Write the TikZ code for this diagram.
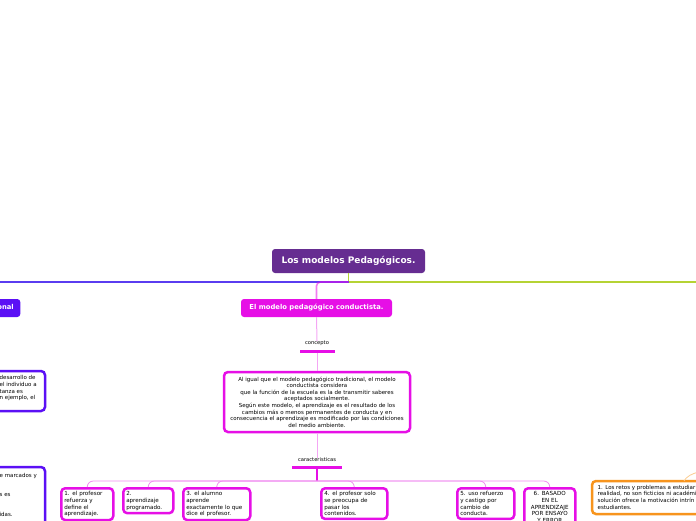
\documentclass[tikz,border=0pt]{standalone}
\usepackage{fontspec}
\setmainfont{DejaVu Sans}
\definecolor{rootc}{HTML}{662D91}
\definecolor{bluec}{HTML}{5B10F5}
\definecolor{bluel}{HTML}{5A3CF0}
\definecolor{magc}{HTML}{E60FE6}
\definecolor{pinkc}{HTML}{F4A6F4}
\definecolor{kidl}{HTML}{F08CF0}
\definecolor{greenc}{HTML}{B5D334}
\definecolor{orc}{HTML}{F7941D}
\definecolor{orl}{HTML}{FBCB8E}
\begin{document}
\begin{tikzpicture}[x=1pt,y=-1pt,
  rootbox/.style={fill=rootc,rounded corners=3pt,minimum width=153pt,minimum height=24pt,text=white,inner sep=0pt,font=\bfseries\fontsize{9}{11}\selectfont},
  mainbox/.style={rounded corners=3pt,minimum height=18pt,text=white,inner sep=0pt,font=\bfseries\fontsize{6.8}{8}\selectfont},
  lbl/.style={inner sep=0pt,font=\fontsize{5.2}{6}\selectfont},
  small/.style={font=\fontsize{5.5}{6.6}\selectfont},
  kidfont/.style={font=\fontsize{5.6}{6.8}\selectfont},
  bar/.style={draw=magc,line width=3pt},
  cbox/.style={draw=magc,line width=2.5pt,rounded corners=4pt,fill=white,inner sep=2pt,small},
  kid/.style={draw=magc,line width=2.5pt,rounded corners=4pt,fill=white,inner xsep=3pt,inner ysep=3pt,kidfont,anchor=north west},
  kline/.style={draw=kidl,line width=0.8pt,rounded corners=6pt},
  plink/.style={draw=pinkc,line width=1pt},
  bbox/.style={draw=bluec,line width=2.5pt,rounded corners=4pt,fill=white},
  ftxt/.style={inner sep=0pt,small,align=left}]
\useasboundingbox (0,0) rectangle (696,520);

% root and main branches
\node[rootbox] (root) at (348.5,261) {Los modelos Pedagógicos.};
\coordinate (j) at (348.5,282);
\node[mainbox,fill=bluec,anchor=east,inner xsep=6.5pt] (trad) at (20.5,308) {El modelo pedagógico tradicional};
\node[mainbox,fill=magc,minimum width=151pt] (cond) at (316.5,308) {El modelo pedagógico conductista.};
\coordinate (gend) at (720,282);
\coordinate (bend) at (-80,282);

\draw[draw=greenc,line width=1.6pt] (root.south) -- (j) -- (gend);
\draw[draw=bluel,line width=1.6pt] (j) -- (bend);
\draw[draw=magc,opacity=0.55,line width=1.6pt,rounded corners=4pt] (j) -| (cond.north);

% concepto
\node[lbl] (conc) at (317,343.5) {concepto};
\coordinate (cbl) at (300,351);
\coordinate (cbr) at (335,351);
\draw[bar] (cbl) -- (cbr);
\node[cbox,text width=182pt,align=center,minimum height=60pt] (cb) at (317,402) {Al igual que el modelo pedagógico tradicional, el modelo\\conductista considera\\que la función de la escuela es la de transmitir saberes\\aceptados socialmente.\\Según este modelo, el aprendizaje es el resultado de los\\cambios más o menos permanentes de conducta y en\\consecuencia el aprendizaje es modificado por las condiciones\\del medio ambiente.};
\draw[plink] (cond.south) -- (conc.north);
\draw[plink] (317,352.5) -- (cb.north);

% caracteristicas
\node[lbl] (car) at (317,460) {caracteristicas};
\coordinate (kbl) at (292,467);
\coordinate (kbr) at (342,467);
\draw[bar] (kbl) -- (kbr);
\draw[plink] (cb.south) -- (car.north);
\coordinate (hub) at (317,481);
\draw[draw=magc,line width=1.5pt] (317,468.5) -- (hub);

% children
\node[kid,text width=46pt,align=left] (k1) at (60,487) {1. el profesor\\refuerza y\\define el\\aprendizaje.};
\node[kid,text width=44pt,align=left] (k2) at (122,487) {2.\\aprendizaje\\programado.};
\node[kid,text width=61pt,align=left] (k3) at (182,487) {3. el alumno\\aprende\\exactamente lo que\\dice el profesor.};
\node[kid,text width=60pt,align=left] (k4) at (320,487) {4. el profesor solo\\se preocupa de\\pasar los\\contenidos.};
\node[kid,text width=51pt,align=left] (k5) at (456,487) {5. uso refuerzo\\y castigo por\\cambio de\\conducta.};
\node[kid,text width=45pt,align=center] (k6) at (523,487) {6. BASADO\\EN EL\\APRENDIZAJE\\POR ENSAYO\\Y ERROR};
\foreach \k in {k1,k2,k3,k4,k5,k6} \draw[kline] (hub) -| (\k.north);

% left (tradicional) boxes
\draw[bbox] (-30,371) rectangle (45,411);
\node[ftxt,anchor=north west] (ta) at (-0.5,375.5) {desarrollo de\\el individuo a\\tanza es\\n ejemplo, el};
\draw[bbox] (-30,467) rectangle (45,545);
\node[ftxt,anchor=west] (tb1) at (-0.5,476) {e marcados y};
\node[ftxt,anchor=west] (tb2) at (-0.5,495) {s es};
\node[ftxt,anchor=west] (tb3) at (-0.5,514) {idas.};

% orange box
\draw[draw=orc,line width=2.5pt,rounded corners=4pt,fill=white] (592,481) rectangle (780,514);
\node[ftxt,anchor=north west] (ob) at (597.5,485) {1. Los retos y problemas a estudiar\\realidad, no son ficticios ni académi\\solución ofrece la motivación intrín\\estudiantes.};
\coordinate (oc1) at (700,472);
\coordinate (oc2) at (684,481);
\draw[draw=orl,line width=0.8pt] (oc1) .. controls (692,473) and (686,477) .. (oc2);
\end{tikzpicture}
\end{document}
